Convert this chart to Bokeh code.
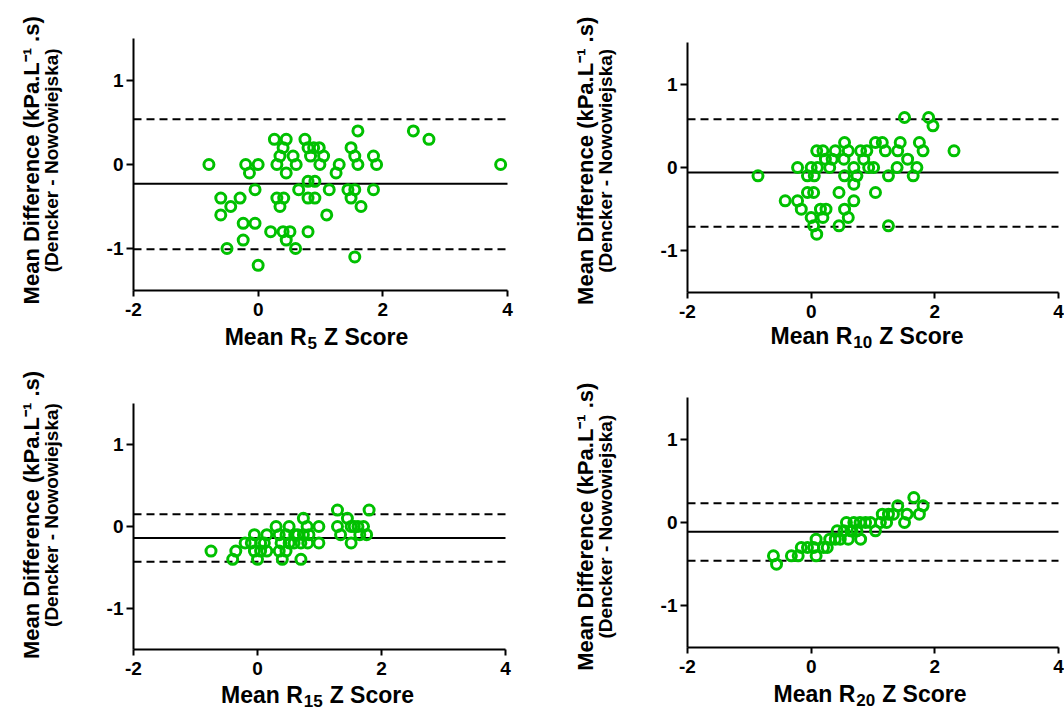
import math
from bokeh.plotting import figure
from bokeh.layouts import row, column
from bokeh.models import Range1d, FixedTicker, Label, LinearAxis
from bokeh.embed import file_html
from bokeh.resources import INLINE

# ---------------- data ----------------
r5_x = [-0.79, -0.20, -0.14, 0.00, -0.05, -0.60, -0.44, -0.29, -0.60, -0.24,
        -0.05, -0.24, -0.50, 0.00, 0.26, 0.45, 0.40, 0.35, 0.56, 0.30,
        0.61, 0.45, 0.30, 0.41, 0.35, 0.20, 0.40, 0.51, 0.45, 0.60,
        0.65, 0.75, 0.80, 0.89, 0.98, 0.84, 1.05, 0.99, 0.80, 0.91,
        0.80, 0.91, 0.80, 1.10, 1.14, 1.30, 1.25, 1.49, 1.55, 1.60,
        1.60, 1.44, 1.55, 1.49, 1.65, 1.55, 1.85, 1.90, 1.85, 2.49,
        2.74, 3.89]
r5_y = [0.0, 0.0, -0.1, 0.0, -0.3, -0.4, -0.5, -0.4, -0.6, -0.7,
        -0.7, -0.9, -1.0, -1.2, 0.3, 0.3, 0.2, 0.1, 0.1, 0.0,
        0.0, -0.1, -0.4, -0.4, -0.5, -0.8, -0.8, -0.8, -0.9, -1.0,
        -0.3, 0.3, 0.2, 0.2, 0.2, 0.1, 0.1, 0.0, -0.2, -0.2,
        -0.4, -0.4, -0.8, -0.6, -0.3, 0.0, -0.1, 0.2, 0.1, 0.0,
        0.4, -0.3, -0.3, -0.4, -0.5, -1.1, 0.1, 0.0, -0.3, 0.4,
        0.3, 0.0]
r5_bias, r5_upper, r5_lower = -0.23, 0.54, -1.01

r10_x = [-0.86, -0.42, -0.22, -0.22, -0.16, -0.06, 0.00, 0.05, 0.10, -0.06,
         0.04, 0.00, 0.04, 0.09, 0.15, 0.24, 0.19, 0.09, 0.19, 0.23,
         0.30, 0.34, 0.39, 0.45, 0.45, 0.54, 0.53, 0.60, 0.54, 0.54,
         0.60, 0.69, 0.74, 0.69, 0.69, 0.80, 0.85, 0.90, 0.93, 1.01,
         1.04, 1.04, 1.15, 1.20, 1.25, 1.25, 1.39, 1.40, 1.44, 1.51,
         1.56, 1.65, 1.71, 1.75, 1.81, 1.90, 1.97, 2.31]
r10_y = [-0.1, -0.4, 0.0, -0.4, -0.5, -0.1, 0.0, -0.1, 0.0, -0.3,
         -0.3, -0.6, -0.7, -0.8, -0.5, -0.5, -0.6, 0.2, 0.2, 0.1,
         0.0, 0.1, 0.2, -0.3, -0.7, 0.3, 0.1, 0.2, -0.1, -0.5,
         -0.6, 0.0, -0.1, -0.2, -0.4, 0.2, 0.1, 0.2, 0.0, 0.0,
         -0.3, 0.3, 0.3, 0.2, -0.1, -0.7, 0.0, 0.2, 0.3, 0.6,
         0.1, -0.1, 0.0, 0.3, 0.2, 0.6, 0.5, 0.2]
r10_bias, r10_upper, r10_lower = -0.06, 0.58, -0.71

r15_x = [-0.75, -0.35, -0.40, -0.20, -0.10, -0.05, -0.05, 0.00, 0.05, 0.05,
         0.15, 0.15, 0.11, 0.30, 0.35, 0.35, 0.40, 0.46, 0.46, 0.51,
         0.51, 0.59, 0.65, 0.70, 0.70, 0.74, 0.74, 0.80, 0.81, 0.83,
         0.99, 0.99, 1.29, 1.29, 1.34, 1.45, 1.51, 1.51, 1.56, 1.62,
         1.65, 1.71, 1.76, 1.80, 0.38, 0.60]
r15_y = [-0.3, -0.3, -0.4, -0.2, -0.2, -0.1, -0.3, -0.4, -0.2, -0.3,
         -0.1, -0.3, -0.2, 0.0, -0.1, -0.3, -0.4, -0.3, -0.1, 0.0,
         -0.2, -0.2, -0.1, -0.2, -0.4, 0.1, -0.1, 0.0, -0.2, -0.1,
         0.0, -0.2, 0.2, 0.0, -0.1, 0.1, 0.0, -0.2, 0.0, 0.0,
         -0.1, 0.0, -0.1, 0.2, -0.2, -0.1]
r15_bias, r15_upper, r15_lower = -0.14, 0.15, -0.43

r20_x = [-0.61, -0.56, -0.32, -0.21, -0.16, -0.06, 0.04, 0.08, 0.08, 0.20,
         0.26, 0.30, 0.39, 0.42, 0.47, 0.53, 0.57, 0.60, 0.66, 0.69,
         0.74, 0.79, 0.80, 0.88, 0.96, 1.04, 1.12, 1.15, 1.22, 1.25,
         1.33, 1.40, 1.51, 1.55, 1.66, 1.75, 1.81, 0.64]
r20_y = [-0.4, -0.5, -0.4, -0.4, -0.3, -0.3, -0.3, -0.2, -0.4, -0.3,
         -0.3, -0.2, -0.2, -0.1, -0.2, -0.1, 0.0, -0.2, -0.1, 0.0,
         -0.1, 0.0, -0.2, 0.0, 0.0, -0.1, 0.0, 0.1, 0.0, 0.1,
         0.1, 0.2, 0.0, 0.1, 0.3, 0.1, 0.2, -0.1]
r20_bias, r20_upper, r20_lower = -0.11, 0.23, -0.46

x_ticks = [-2, 0, 2, 4]
y_ticks = [-1, 0, 1]
x_tick_labels = {-2: "-2", 0: "0", 2: "2", 4: "4"}
y_tick_labels = {-1: "-1", 0: "0", 1: "1"}
x_subscripts = ["5", "10", "15", "20"]
x_label_main = ("Mean R", "Z Score")
y_label_line1 = "Mean Difference (kPa.L\u207b\u00b9 .s)"
y_label_line2 = "(Dencker - Nowowiejska)"

FONT = "Liberation Sans"
GREEN = "#00c000"
XMIN, XMAX, YMIN, YMAX = -2, 4, -1.5, 1.5

# approximate advance widths (1/1000 em) of the bold sans face
ADV = {"M": 833, "e": 556, "a": 556, "n": 611, " ": 278, "R": 722,
       "Z": 611, "S": 667, "c": 556, "o": 611, "r": 389}


def text_w(s, size):
    return sum(ADV.get(ch, 556) for ch in s) * size / 1000.0


def panel(xs, ys, bias, upper, lower, sub, W, H, L, T, PW, PH,
          ylab_center, xlab_shift, xlab_drop):
    """W,H: canvas size; L,T: offset of the axes box; PW,PH: axes box size."""
    dx = (XMAX - XMIN) / PW      # data units per pixel
    dy = (YMAX - YMIN) / PH
    R = W - L - PW
    B = H - T - PH
    p = figure(output_backend="svg", toolbar_location=None,
               width=W, height=H, min_border=0,
               x_axis_location=None, y_axis_location=None,
               x_range=Range1d(XMIN - L * dx, XMAX + R * dx),
               y_range=Range1d(YMIN - B * dy, YMAX + T * dy))
    p.outline_line_color = None
    p.grid.visible = False

    xaxis = LinearAxis(fixed_location=YMIN, bounds=(XMIN, XMAX),
                       ticker=FixedTicker(ticks=x_ticks, minor_ticks=[]),
                       major_label_overrides=x_tick_labels)
    yaxis = LinearAxis(fixed_location=XMIN, bounds=(YMIN, YMAX),
                       ticker=FixedTicker(ticks=y_ticks, minor_ticks=[]),
                       major_label_overrides=y_tick_labels)
    for ax in (xaxis, yaxis):
        ax.axis_line_width = 2
        ax.axis_line_color = "black"
        ax.major_tick_line_width = 2
        ax.major_tick_line_color = "black"
        ax.major_tick_in = 0
        ax.minor_tick_line_color = None
        ax.major_label_text_font = FONT
        ax.major_label_text_font_style = "bold"
        ax.major_label_text_font_size = "19px"
        ax.major_label_text_color = "black"
    xaxis.major_tick_out = 6
    xaxis.major_label_standoff = 6
    yaxis.major_tick_out = 7
    yaxis.major_label_standoff = 3
    p.add_layout(xaxis, "below")
    p.add_layout(yaxis, "left")

    # limits of agreement (dashed) and bias (solid)
    p.segment(x0=[XMIN, XMIN], x1=[XMAX, XMAX], y0=[upper, lower],
              y1=[upper, lower], line_color="black", line_width=2,
              line_dash="8 5")
    p.segment(x0=[XMIN], x1=[XMAX], y0=[bias], y1=[bias],
              line_color="black", line_width=2)
    p.scatter(xs, ys, marker="circle", size=10, fill_color=None,
              line_color=GREEN, line_width=3)

    # ---- x-axis title with a real subscript ----
    main_size, sub_size = 23, 17
    w1 = text_w(x_label_main[0], main_size)
    ws = text_w(sub, sub_size)
    gap = 7
    w3 = text_w(x_label_main[1], main_size)
    total = w1 + 1 + ws + gap + w3
    start_px = PW / 2.0 + xlab_shift - total / 2.0
    base = YMIN - xlab_drop * dy
    common = dict(text_font=FONT, text_font_style="bold", text_color="black",
                  text_align="left", text_baseline="alphabetic")
    p.add_layout(Label(x=XMIN + start_px * dx, y=base, text=x_label_main[0],
                       text_font_size=f"{main_size}px", **common))
    p.add_layout(Label(x=XMIN + (start_px + w1 + 1) * dx, y=base - 6 * dy,
                       text=sub, text_font_size=f"{sub_size}px", **common))
    p.add_layout(Label(x=XMIN + (start_px + w1 + 1 + ws + gap) * dx, y=base,
                       text=x_label_main[1],
                       text_font_size=f"{main_size}px", **common))

    # ---- y-axis title, two lines ----
    rot = dict(text_font=FONT, text_font_style="bold", text_color="black",
               text_align="center", text_baseline="middle",
               angle=math.pi / 2, angle_units="rad")
    p.add_layout(Label(x=XMIN - 102 * dx, y=ylab_center, text=y_label_line1,
                       text_font_size="22px", **rot))
    p.add_layout(Label(x=XMIN - 82 * dx, y=ylab_center, text=y_label_line2,
                       text_font_size="19px", **rot))
    return p


p1 = panel(r5_x, r5_y, r5_bias, r5_upper, r5_lower, x_subscripts[0],
           527, 370, 133, 38, 374, 252, 0.05, -4, 46)
p2 = panel(r10_x, r10_y, r10_bias, r10_upper, r10_lower, x_subscripts[1],
           537, 370, 160, 42, 371, 250, 0.08, -6, 43)
p3 = panel(r15_x, r15_y, r15_bias, r15_upper, r15_lower, x_subscripts[2],
           527, 343, 133, 33, 372, 246, 0.14, -2, 45)
p4 = panel(r20_x, r20_y, r20_bias, r20_upper, r20_lower, x_subscripts[3],
           537, 343, 160, 27, 371, 250, -0.05, -3, 46)

layout = column(row(p1, p2), row(p3, p4))
open("out.html", "w").write(file_html(layout, INLINE))
